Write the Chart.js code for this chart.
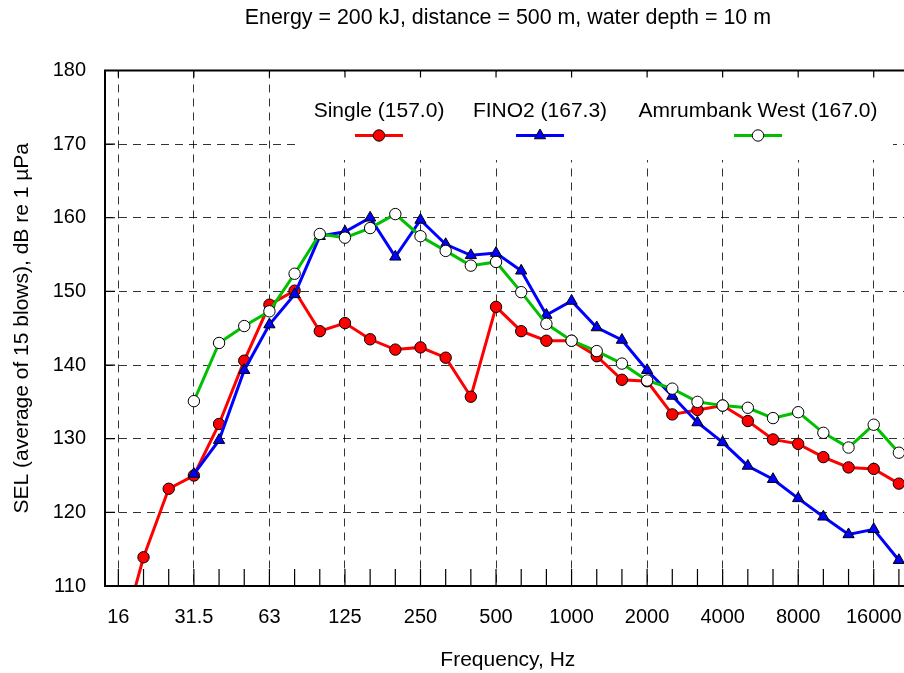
<!DOCTYPE html>
<html>
<head>
<meta charset="utf-8">
<script src="https://cdn.jsdelivr.net/npm/chart.js@4.4.0/dist/chart.umd.min.js"></script>
<style>
  html, body { margin: 0; padding: 0; background: #fff; overflow: hidden; }
  #wrap { position: relative; width: 921px; height: 673px; }
</style>
</head>
<body>
<div id="wrap"><canvas id="chart"></canvas></div>
<script>
// third-octave band centres (Hz)
const bands = ['16', '20', '25', '31.5', '40', '50', '63', '80', '100', '125', '160', '200', '250', '315',
  '400', '500', '630', '800', '1000', '1250', '1600', '2000', '2500', '3150', '4000', '5000', '6300',
  '8000', '10000', '12500', '16000', '20000'];
const xTickLabels = ['16', '31.5', '63', '125', '250', '500', '1000', '2000', '4000', '8000', '16000'];
const yTickValues = [110, 120, 130, 140, 150, 160, 170, 180];

const seriesLabels = ['Single (157.0)', 'FINO2 (167.3)', 'Amrumbank West (167.0)'];

// SEL per band, dB re 1 µPa
const single = [101.5, 113.9, 123.2, 125.0, 132.0, 140.6, 148.2, 150.1, 144.6, 145.7, 143.5, 142.1, 142.4,
  141.0, 135.7, 147.9, 144.6, 143.3, 143.3, 141.2, 138.0, 137.8, 133.3, 133.9, 134.5, 132.4, 129.9, 129.3,
  127.5, 126.1, 125.9, 123.9];
const fino2 = [null, null, null, 125.2, 129.8, 139.3, 145.5, 149.6, 157.5, 158.1, 160.0, 154.7, 159.7,
  156.4, 154.9, 155.2, 152.8, 146.8, 148.7, 145.1, 143.4, 139.3, 135.8, 132.2, 129.5, 126.3, 124.5, 121.9,
  119.4, 117.0, 117.7, 113.5];
const amrumbank = [null, null, null, 135.1, 143.0, 145.3, 147.3, 152.4, 157.8, 157.3, 158.6, 160.5, 157.5,
  155.5, 153.5, 154.0, 149.9, 145.6, 143.3, 141.9, 140.2, 137.9, 136.8, 135.0, 134.5, 134.2, 132.8, 133.6,
  130.8, 128.8, 131.9, 128.1];

const majorIdx = xTickLabels.map(l => bands.indexOf(l));
const toXY = arr => arr.map((v, i) => ({ x: i, y: v }));

Chart.defaults.font.family = "'Liberation Sans', Arial, sans-serif";
Chart.defaults.color = '#000';

const GRID = 'rgba(0, 0, 0, 0.8)';

// white panel behind legend, hides the grid there
const legendPanel = {
  id: 'legendPanel',
  beforeDatasetsDraw(chart) {
    const c = chart.ctx;
    c.save();
    c.fillStyle = '#fff';
    c.fillRect(297, 72, 596, 88);
    c.restore();
  }
};

// frame, inward ticks and legend entries
const frame = {
  id: 'frame',
  afterDatasetsDraw(chart) {
    const { ctx: c, chartArea: a, scales: { x, y } } = chart;
    c.save();
    c.strokeStyle = '#000';
    c.lineWidth = 1.2;
    c.beginPath();
    bands.forEach((b, i) => {
      const px = x.getPixelForValue(i);
      c.moveTo(px, a.bottom);
      c.lineTo(px, a.bottom - 17);
    });
    majorIdx.forEach(i => {
      const px = x.getPixelForValue(i);
      c.moveTo(px, a.top);
      c.lineTo(px, a.top + 7);
    });
    yTickValues.forEach(v => {
      const py = y.getPixelForValue(v);
      c.moveTo(a.left, py);
      c.lineTo(a.left + 10, py);
    });
    c.stroke();

    c.lineWidth = 2;
    c.beginPath();
    c.moveTo(a.left, a.bottom);
    c.lineTo(a.left, a.top);
    c.lineTo(a.right, a.top);
    c.lineTo(a.right, a.bottom);
    c.closePath();
    c.stroke();

    // legend
    const cx = [379, 540, 758];
    c.font = "21px 'Liberation Sans', Arial, sans-serif";
    c.textAlign = 'center';
    c.textBaseline = 'alphabetic';
    chart.data.datasets.forEach((ds, i) => {
      c.fillStyle = '#000';
      c.fillText(ds.label, cx[i], 117);
      c.strokeStyle = ds.borderColor;
      c.lineWidth = 3;
      c.beginPath();
      c.moveTo(cx[i] - 24, 135.5);
      c.lineTo(cx[i] + 24, 135.5);
      c.stroke();
      c.fillStyle = ds.pointBackgroundColor;
      c.strokeStyle = '#000';
      c.lineWidth = 1;
      Chart.helpers.drawPoint(c, {
        pointStyle: ds.pointStyle, radius: ds.pointRadius, borderWidth: 1, rotation: 0
      }, cx[i], 135.5);
    });
    c.restore();
  }
};

new Chart(document.getElementById('chart'), {
  type: 'line',
  data: {
    datasets: [
      {
        label: seriesLabels[0],
        data: toXY(single),
        borderColor: '#ff0000',
        backgroundColor: '#ff0000',
        pointBackgroundColor: '#ff0000',
        pointBorderColor: '#000',
        pointBorderWidth: 1,
        pointStyle: 'circle',
        pointRadius: 5.7,
        borderWidth: 3,
        order: 3
      },
      {
        label: seriesLabels[1],
        data: toXY(fino2),
        borderColor: '#0000ff',
        backgroundColor: '#0000ff',
        pointBackgroundColor: '#0000ff',
        pointBorderColor: '#000',
        pointBorderWidth: 1,
        pointStyle: 'triangle',
        pointRadius: 6.5,
        borderWidth: 3,
        order: 2
      },
      {
        label: seriesLabels[2],
        data: toXY(amrumbank),
        borderColor: '#00c000',
        backgroundColor: '#00c000',
        pointBackgroundColor: '#ffffff',
        pointBorderColor: '#000',
        pointBorderWidth: 1,
        pointStyle: 'circle',
        pointRadius: 5.7,
        borderWidth: 3,
        order: 1
      }
    ]
  },
  plugins: [legendPanel, frame],
  options: {
    responsive: true,
    maintainAspectRatio: false,
    animation: false,
    devicePixelRatio: 1,
    layout: { padding: 0 },
    elements: { line: { tension: 0 } },
    scales: {
      x: {
        type: 'linear',
        min: -0.53,
        max: 31.47,
        afterBuildTicks: s => { s.ticks = majorIdx.map(v => ({ value: v })); },
        afterFit: s => { s.height = 87; },
        grid: { color: GRID, lineWidth: 1, drawTicks: false },
        border: { display: false, dash: [8, 6] },
        ticks: {
          padding: 19,
          autoSkip: false,
          maxRotation: 0,
          font: { size: 20 },
          callback: v => bands[v]
        },
        title: {
          display: true,
          text: 'Frequency, Hz',
          font: { size: 21 },
          padding: { top: 0, bottom: 0.4 }
        }
      },
      y: {
        min: 110,
        max: 180,
        afterBuildTicks: s => { s.ticks = yTickValues.map(v => ({ value: v })); },
        afterFit: s => { s.width = 105; },
        grid: { color: GRID, lineWidth: 1, drawTicks: false },
        border: { display: false, dash: [8, 6] },
        ticks: { padding: 19, font: { size: 20 } },
        title: {
          display: true,
          text: 'SEL (average of 15 blows), dB re 1 µPa',
          font: { size: 21 },
          padding: { top: 9.4, bottom: 0 }
        }
      }
    },
    plugins: {
      legend: { display: false },
      tooltip: { enabled: false },
      title: {
        display: true,
        fullSize: false,
        text: 'Energy = 200 kJ, distance = 500 m, water depth = 10 m',
        font: { size: 21.4, weight: 'normal' },
        color: '#000',
        padding: { top: 5.4, bottom: 39.4 }
      }
    }
  }
});
</script>
</body>
</html>
